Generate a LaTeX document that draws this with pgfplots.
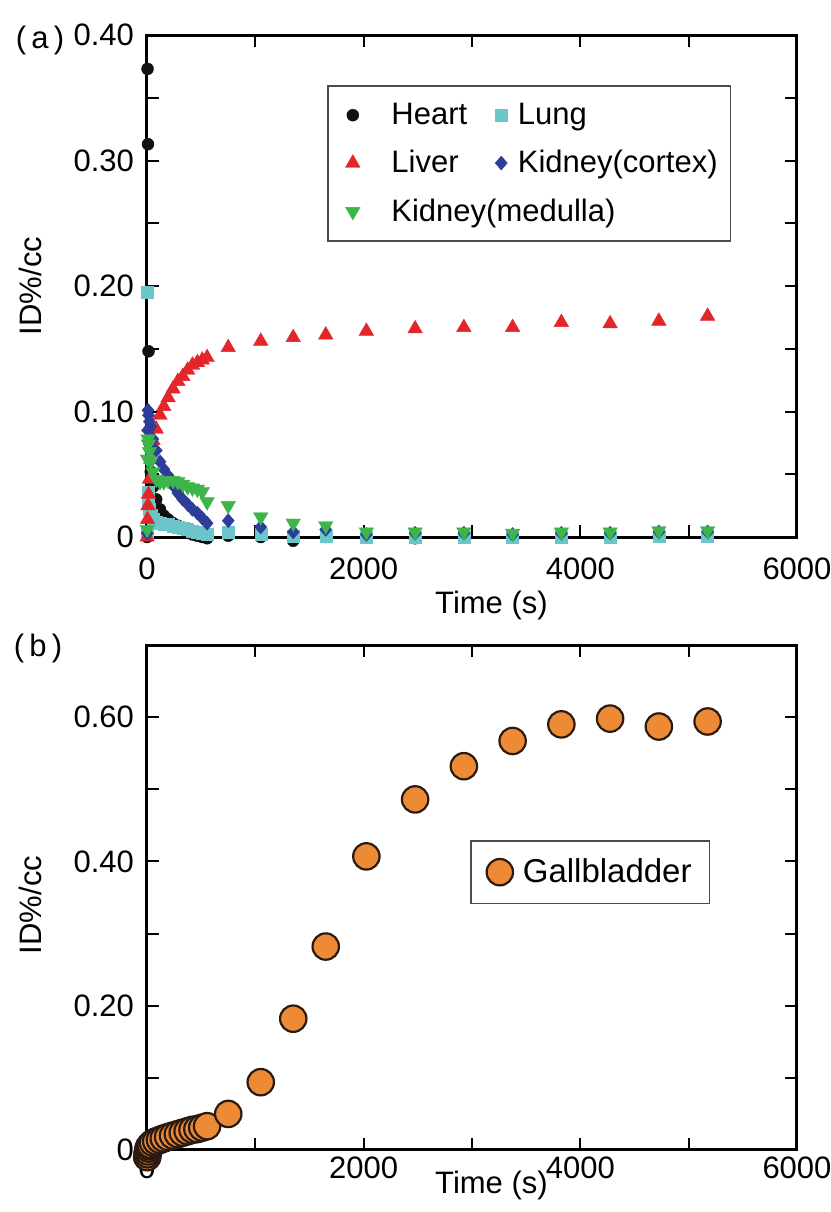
\documentclass[border=0pt]{standalone}
\usepackage{fontspec}
\setmainfont{Liberation Sans}
\usepackage{pgfplots}
\usepackage{pgfplotstable}
\pgfplotsset{compat=1.18}

\definecolor{cheart}{HTML}{111111}
\definecolor{clung}{HTML}{6CC5C9}
\definecolor{cliver}{HTML}{E2262A}
\definecolor{ccortex}{HTML}{2E3D98}
\definecolor{cmedulla}{HTML}{3DB54A}
\definecolor{cgb}{HTML}{EC8A36}
\definecolor{cgbedge}{HTML}{2A1A10}

\newcommand{\fs}{\fontsize{15.5}{18}\selectfont}

\pgfplotstableread{
t     heart   lung   liver  cortex medulla gb
2     0.000   0.002  0.000  0.003  0.006   -0.010
5     0.373   0.195  0.014  0.085  0.062   -0.006
9     0.313   0.036  0.025  0.101  0.078   -0.002
14    0.148   0.030  0.034  0.097  0.074   0.002
22    0.075   0.022  0.046  0.092  0.068   0.005
35    0.052   0.017  0.062  0.088  0.060   0.007
55    0.040   0.014  0.077  0.078  0.052   0.010
85    0.030   0.012  0.086  0.069  0.046   0.012
120   0.022   0.011  0.097  0.060  0.044   0.014
155   0.017   0.010  0.104  0.054  0.044   0.016
195   0.014   0.010  0.111  0.049  0.045   0.018
240   0.011   0.009  0.118  0.041  0.045   0.020
285   0.009   0.008  0.124  0.035  0.044   0.022
330   0.007   0.007  0.128  0.030  0.042   0.024
375   0.004   0.006  0.133  0.026  0.040   0.026
420   0.002   0.005  0.137  0.022  0.039   0.028
465   0.001   0.004  0.139  0.019  0.038   0.029
510   0.000   0.003  0.141  0.015  0.036   0.031
555   -0.001  0.002  0.143  0.011  0.028   0.033
750   0.001   0.004  0.151  0.013  0.025   0.050
1050  0.000   0.002  0.156  0.008  0.016   0.094
1350  -0.003  0.001  0.159  0.004  0.011   0.182
1650  0.000   0.001  0.161  0.006  0.009   0.282
2025  0.000   0.000  0.164  0.002  0.004   0.407
2475  -0.001  0.000  0.166  0.003  0.004   0.486
2925  0.000   0.000  0.167  0.003  0.004   0.532
3375  0.000   0.000  0.167  0.002  0.003   0.567
3825  0.000   0.000  0.171  0.003  0.004   0.590
4275  0.001   0.000  0.170  0.003  0.004   0.598
4725  0.001   0.001  0.172  0.004  0.005   0.587
5175  0.001   0.001  0.176  0.004  0.005   0.594
}\data

\pgfplotsset{
  myaxis/.style={
    scale only axis, width=325pt,
    xmin=0, xmax=6000,
    axis line style={line width=1.5pt},
    tick style={black, line width=1pt},
    major tick length=6pt,
    tick align=inside,
    xtick={0,1000,...,6000},
    xticklabels={0,{},2000,{},4000,{},6000},
    tick label style={font=\fs},
    label style={font=\fs},
    /pgf/number format/assume math mode=true,
    clip=false,
    xlabel={Time (s)},
    ylabel={ID\%/cc},
    yticklabel style={xshift=-3pt},
  },
  legA/.style={legend image code/.code={\path[draw=none,fill=none] (0pt,0pt) (25.3pt,0pt); \draw[##1] plot coordinates {(8pt,0pt)};}},
  legB/.style={legend image code/.code={\path[draw=none,fill=none] (0pt,0pt) (10.8pt,0pt); \draw[##1] plot coordinates {(4.5pt,0pt)};}},
  legC/.style={legend image code/.code={\path[draw=none,fill=none] (0pt,0pt) (17pt,0pt); \draw[##1] plot coordinates {(7.5pt,0pt)};}},
}

\begin{document}
\begin{tikzpicture}
\useasboundingbox (-73.5pt,17.5pt) rectangle (342pt,-588.5pt);

\begin{axis}[myaxis,
  at={(0pt,0pt)}, anchor=north west,
  height=251pt,
  ymin=0, ymax=0.40,
  ytick={0,0.05,...,0.41},
  yticklabels={0,{},0.10,{},0.20,{},0.30,{},0.40},
  xticklabel style={yshift=-7pt},
  xlabel style={at={(axis description cs:0.53,0)}, anchor=center, yshift=-34pt},
  ylabel style={at={(axis description cs:-0.18,0.5)}, anchor=center},
  legend columns=2,
  legend cell align=left,
  legend style={at={(axis description cs:0.277,0.9)}, anchor=north west,
    draw=black!70, line width=0.8pt, font=\fs,
    cells={anchor=west},
    inner xsep=4.5pt, inner ysep=6.5pt, row sep=7.5pt,
    /tikz/every even column/.append style={column sep=10.5pt}},
]
\addplot[only marks, mark=*, mark size=3pt, color=cheart,
  mark options={fill=cheart, draw=cheart, line width=0.2pt}, legA]
  table[x=t, y=heart] {\data};
\addlegendentry{Heart}
\addplot[only marks, mark=square*, mark size=3pt, color=clung,
  mark options={fill=clung, draw=clung, line width=0.2pt}, legB]
  table[x=t, y=lung] {\data};
\addlegendentry{Lung}
\addplot[only marks, mark=triangle*, mark size=4.2pt, color=cliver,
  mark options={fill=cliver, draw=cliver, line width=0.2pt}, legA]
  table[x=t, y=liver] {\data};
\addlegendentry{Liver}
\addplot[only marks, mark=diamond*, mark size=3.5pt, color=ccortex,
  mark options={fill=ccortex, draw=ccortex, line width=0.2pt, xscale=1.15}, legB]
  table[x=t, y=cortex] {\data};
\addlegendentry{Kidney(cortex)}
\addplot[only marks, mark=triangle*, mark size=4.2pt, color=cmedulla,
  mark options={fill=cmedulla, draw=cmedulla, line width=0.2pt, rotate=180}, legA]
  table[x=t, y=medulla] {\data};
\addlegendentry{\makebox[0pt][l]{Kidney(medulla)}}
\node[font=\fs] at (rel axis cs:-0.1646,0.99) {(\,a\,)};
\end{axis}

\begin{axis}[myaxis,
  at={(0pt,-305pt)}, anchor=north west,
  height=252.5pt,
  ymin=0, ymax=0.70,
  ytick={0,0.1,...,0.71},
  yticklabels={0,{},0.20,{},0.40,{},0.60,{}},
  xlabel style={at={(axis description cs:0.53,0)}, anchor=center, yshift=-17.5pt},
  ylabel style={at={(axis description cs:-0.18,0.485)}, anchor=center},
  legend cell align=left,
  legend style={at={(axis description cs:0.497,0.614)}, anchor=north west,
    draw=black!70, line width=0.8pt, font=\fontsize{16.5}{19}\selectfont,
    cells={anchor=west},
    inner xsep=7pt, inner ysep=7pt},
]
\addplot[only marks, mark=*, mark size=6.6pt, color=cgb,
  mark options={fill=cgb, draw=cgbedge, line width=1.1pt}, legC]
  table[x=t, y=gb] {\data};
\addlegendentry{Gallbladder}
\node[font=\fs] at (rel axis cs:-0.1677,0.994) {(\,b\,)};
\end{axis}
\end{tikzpicture}
\end{document}
